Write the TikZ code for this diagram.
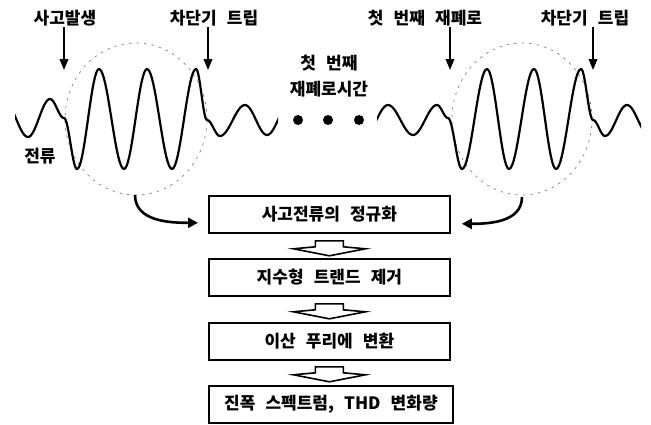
\documentclass[tikz,border=0pt]{standalone}
\usepackage{fontspec}
\setmainfont{Noto Sans CJK KR}[WordSpace=2.6]
\usetikzlibrary{arrows.meta,calc}
\begin{document}
\begin{tikzpicture}[x=1pt,y=-1pt,
  lbl/.style={font=\fontsize{17}{26}\selectfont\bfseries, inner sep=1pt, align=center},
  stepbox/.style={draw, line width=1.8pt, minimum width=241pt, minimum height=37pt,
    anchor=north west, inner sep=0pt, font=\fontsize{17}{20}\selectfont\bfseries},
  wave/.style={line width=2.2pt, line cap=round, line join=round},
  dnarrow/.style={line width=2pt, -{Triangle[length=11pt,width=8.5pt]}},
  bendarrow/.style={line width=2.6pt, -{Triangle[length=10pt,width=10pt]}},
  zone/.style={gray, line width=0.7pt, dash pattern=on 2.5pt off 5pt},
  hollow/.style={line width=1.6pt, line join=miter, fill=white},
  hollowarrow/.pic={\draw[hollow] (-14,0) -- (14,0) -- (14,6) -- (36,8) -- (0,15) -- (-36,8) -- (-14,6) -- cycle;}
]
\useasboundingbox (0,0) rectangle (651,424);

% dashed zones
\draw[zone] (136,119) ellipse [x radius=71pt, y radius=76pt];
\draw[zone] (522,119) ellipse [x radius=70pt, y radius=76pt];

% left wave
\begin{scope}
\clip (15,0) rectangle (278,200);
\foreach \xa/\ya/\xb/\yb in {4/100/28/137, 28/137/50/99, 50/99/64/118, 64/118/77/169,
  77/169/99/69, 99/69/124/169, 124/169/147/69, 147/69/172/169, 172/169/196/69,
  196/69/207/120, 207/120/220/136, 220/136/245/105, 245/105/267/135, 267/135/289/105}
  \draw[wave] plot[domain=0:180, samples=18] ({\xa+(\xb-\xa)*\x/180},{\ya+(\yb-\ya)*(1-cos(\x))/2});
\end{scope}

% right wave
\begin{scope}
\clip (377,0) rectangle (641,200);
\foreach \xa/\ya/\xb/\yb in {365/135/388/105, 388/105/413/135, 413/135/437/105, 437/105/448/118,
  448/118/462/169, 462/169/487/69, 487/69/509/169, 509/169/534/69, 534/69/556/169,
  556/169/581/69, 581/69/593/120, 593/120/605/136, 605/136/627/105, 627/105/649/135}
  \draw[wave] plot[domain=0:180, samples=18] ({\xa+(\xb-\xa)*\x/180},{\ya+(\yb-\ya)*(1-cos(\x))/2});
\end{scope}

% dots
\fill (298,120) circle[radius=5pt];
\fill (328,120) circle[radius=5pt];
\fill (359,120) circle[radius=5pt];

% labels
\node[lbl] (lab1) at (65,18) {사고발생};
\node[lbl] (lab2) at (214,18) {차단기 트립};
\node[lbl] (lab3) at (425,18) {첫 번째 재폐로};
\node[lbl] (lab4) at (585,18) {차단기 트립};
\node[lbl] (mid) at (329,76) {첫 번째\\재폐로시간};
\node[lbl] (cur) at (40,156) {전류};

% down arrows
\coordinate (t1) at (64,70);
\coordinate (t2) at (208,70);
\coordinate (t3) at (450,70);
\coordinate (t4) at (593,70);
\draw[dnarrow] (lab1.south -| t1) -- (t1);
\draw[dnarrow] (lab2.south -| t2) -- (t2);
\draw[dnarrow] (lab3.south -| t3) -- (t3);
\draw[dnarrow] (lab4.south -| t4) -- (t4);

% boxes
\node[stepbox] (b1) at (208,195) {사고전류의 정규화};
\node[stepbox] (b2) at (208,258) {지수형 트랜드 제거};
\node[stepbox] (b3) at (208,322) {이산 푸리에 변환};
\node[stepbox, minimum width=244pt] (b4) at (208,385) {진폭 스펙트럼, THD 변화량};

% hollow arrows
\pic at ($(b1.south)+(0,7)$) {hollowarrow};
\pic at ($(b2.south)+(0,7)$) {hollowarrow};
\pic at ($(b3.south)+(0,6)$) {hollowarrow};

% curved arrows
\coordinate (c1) at (135,195);
\coordinate (c2) at (522,197);
\coordinate (e1) at ($(b1.south west)+(-10,-11)$);
\coordinate (e2) at ($(b1.south east)+(11,-10)$);
\draw[bendarrow] (c1) to[out=-90, in=180] (e1);
\draw[bendarrow] (c2) to[out=-90, in=0] (e2);
\end{tikzpicture}
\end{document}
